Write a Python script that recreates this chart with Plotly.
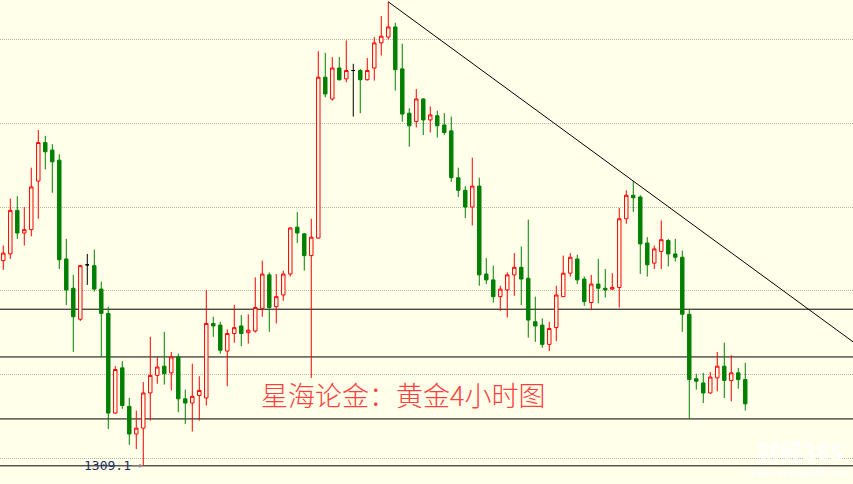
import plotly.graph_objects as go

# ---- data (gold, 4h candles) ----
opens = [1333.6, 1334.4, 1339.6, 1336.9, 1337.3, 1343.1, 1347.7, 1346.8, 1345.6, 1333.8,
         1330.3, 1326.6, 1333.1, 1333.0, 1330.2, 1327.3, 1315.4, 1320.8, 1316.2, 1312.9,
         1313.6, 1317.8, 1319.9, 1321.0, 1320.2, 1322.1, 1317.1, 1316.6, 1317.5, 1317.2,
         1326.1, 1325.9, 1322.8, 1324.9, 1325.8, 1325.0, 1325.2, 1327.9, 1331.9, 1328.1,
         1329.5, 1332.0, 1337.6, 1336.8, 1334.2, 1336.3, 1355.5, 1352.9, 1356.6, 1355.3,
         1356.3, 1356.3, 1355.2, 1356.6, 1359.6, 1360.3, 1361.5, 1356.5, 1351.2, 1350.2,
         1352.9, 1350.4, 1350.9, 1349.8, 1349.1, 1343.5, 1342.0, 1340.0, 1342.5, 1332.0,
         1331.3, 1329.3, 1330.1, 1331.9, 1332.8, 1331.5, 1326.3, 1325.9, 1323.6, 1325.6,
         1329.3, 1332.1, 1333.8, 1331.4, 1328.6, 1330.8, 1330.3, 1330.2, 1330.4, 1338.6,
         1341.4, 1341.2, 1335.7, 1333.3, 1334.7, 1336.0, 1334.4, 1334.0, 1327.2, 1319.5,
         1319.0, 1317.8, 1319.6, 1321.0, 1319.3, 1320.2, 1319.4]
highs = [1335.4, 1341.0, 1341.3, 1340.0, 1344.7, 1349.2, 1348.5, 1347.5, 1346.3, 1336.2,
         1331.9, 1333.1, 1334.4, 1334.9, 1331.1, 1328.1, 1321.0, 1321.6, 1317.2, 1315.7,
         1319.1, 1324.5, 1322.1, 1325.1, 1322.7, 1322.5, 1318.2, 1321.3, 1319.8, 1330.1,
         1326.9, 1326.3, 1325.4, 1328.3, 1327.1, 1327.2, 1331.6, 1333.6, 1332.2, 1332.0,
         1332.4, 1337.6, 1339.4, 1336.9, 1338.6, 1358.6, 1358.4, 1357.9, 1357.9, 1359.9,
         1357.1, 1356.5, 1357.8, 1360.3, 1362.8, 1364.5, 1362.0, 1359.5, 1351.8, 1354.1,
         1353.0, 1352.0, 1351.5, 1351.2, 1350.8, 1344.7, 1342.5, 1345.9, 1343.5, 1333.9,
         1333.0, 1330.6, 1332.2, 1334.5, 1335.3, 1338.5, 1329.3, 1326.7, 1326.3, 1330.6,
         1334.2, 1334.5, 1334.3, 1331.7, 1331.9, 1333.8, 1332.6, 1332.1, 1339.9, 1342.0,
         1343.1, 1341.4, 1336.4, 1335.4, 1338.4, 1336.2, 1336.2, 1334.8, 1327.7, 1320.1,
         1320.2, 1320.3, 1322.7, 1323.8, 1322.3, 1320.8, 1321.4]
lows = [1332.5, 1333.8, 1336.2, 1335.4, 1336.5, 1338.6, 1344.5, 1341.7, 1332.6, 1328.3,
        1322.7, 1326.4, 1330.7, 1329.9, 1322.1, 1313.5, 1315.3, 1315.9, 1311.6, 1311.1,
        1309.1, 1314.5, 1318.9, 1318.8, 1318.1, 1315.5, 1314.1, 1313.2, 1314.5, 1316.3,
        1324.5, 1322.5, 1318.6, 1323.8, 1323.4, 1323.7, 1325.0, 1326.9, 1325.1, 1326.1,
        1328.8, 1331.7, 1335.7, 1332.4, 1319.6, 1336.2, 1353.1, 1352.7, 1355.1, 1354.9,
        1350.8, 1351.2, 1355.1, 1355.1, 1358.1, 1360.0, 1353.9, 1350.2, 1347.2, 1349.5,
        1348.6, 1348.9, 1348.3, 1348.6, 1343.0, 1341.2, 1338.7, 1337.8, 1330.6, 1330.8,
        1328.6, 1327.6, 1326.8, 1329.4, 1328.3, 1324.4, 1323.9, 1323.2, 1322.8, 1324.0,
        1329.3, 1331.7, 1330.8, 1328.2, 1327.7, 1328.5, 1329.2, 1330.1, 1328.0, 1338.0,
        1339.4, 1332.0, 1331.7, 1332.6, 1332.6, 1332.9, 1333.5, 1325.1, 1314.7, 1318.2,
        1316.6, 1317.7, 1318.0, 1317.2, 1316.8, 1318.3, 1315.7]
closes = [1334.5, 1339.6, 1336.9, 1337.3, 1342.4, 1347.7, 1346.6, 1345.4, 1333.7, 1330.1,
          1326.9, 1333.0, 1333.1, 1330.2, 1327.3, 1315.4, 1320.6, 1316.3, 1312.9, 1313.6,
          1317.8, 1319.9, 1320.9, 1320.1, 1322.1, 1317.1, 1316.6, 1317.4, 1318.1, 1326.1,
          1325.8, 1322.9, 1324.9, 1325.6, 1324.9, 1325.3, 1328.0, 1332.0, 1328.0, 1329.3,
          1332.0, 1337.5, 1336.9, 1334.2, 1336.4, 1355.5, 1353.5, 1356.6, 1355.2, 1356.3,
          1356.3, 1355.2, 1356.3, 1359.6, 1360.4, 1361.5, 1356.4, 1351.1, 1349.7, 1352.9,
          1350.4, 1351.0, 1349.7, 1348.9, 1343.5, 1342.0, 1340.0, 1342.5, 1331.9, 1331.3,
          1329.3, 1330.2, 1331.9, 1332.8, 1331.4, 1326.5, 1325.8, 1323.6, 1325.5, 1329.5,
          1332.1, 1334.0, 1331.3, 1328.7, 1330.8, 1330.3, 1330.1, 1330.4, 1338.6, 1341.4,
          1341.1, 1335.6, 1333.1, 1335.0, 1336.1, 1334.4, 1334.0, 1327.2, 1319.4, 1319.2,
          1317.8, 1319.7, 1321.0, 1319.3, 1320.2, 1319.4, 1316.5]

support_levels = [1327.8, 1322.1, 1314.7, 1309.1]
grid_levels = [1310, 1320, 1330, 1340, 1350, 1360]
trend_anchors = [55, 90]          # candles whose highs define the falling trend line
title_text = "星海论金：黄金4小时图"
low_label = "1309.1"
watermark = "财经365"
watermark_url = "www.caijing365.com"

BG = "#FFFFEA"
RED = "#FF0000"
GREEN = "#008000"

n = len(opens)
idx = list(range(n))
x_min, x_max = -0.47, 121.39
y_min, y_max = 1306.93, 1364.72

# split dojis (open == close) into their own black trace
main_o, main_h, main_l, main_c = [], [], [], []
doji_o, doji_h, doji_l, doji_c = [], [], [], []
for o, h, l, c in zip(opens, highs, lows, closes):
    if o == c:
        main_o.append(None); main_h.append(None); main_l.append(None); main_c.append(None)
        doji_o.append(o); doji_h.append(h); doji_l.append(l); doji_c.append(c)
    else:
        main_o.append(o); main_h.append(h); main_l.append(l); main_c.append(c)
        doji_o.append(None); doji_h.append(None); doji_l.append(None); doji_c.append(None)

fig = go.Figure()
fig.add_trace(go.Candlestick(
    x=idx, open=main_o, high=main_h, low=main_l, close=main_c,
    increasing=dict(line=dict(color=RED, width=1), fillcolor=BG),
    decreasing=dict(line=dict(color=GREEN, width=1), fillcolor=GREEN),
    showlegend=False, hoverinfo="skip"))
fig.add_trace(go.Candlestick(
    x=idx, open=doji_o, high=doji_h, low=doji_l, close=doji_c,
    increasing=dict(line=dict(color="#000000", width=1), fillcolor="#000000"),
    decreasing=dict(line=dict(color="#000000", width=1), fillcolor="#000000"),
    showlegend=False, hoverinfo="skip"))

# horizontal support lines
for lv in support_levels:
    fig.add_shape(type="line", xref="paper", x0=0, x1=1, yref="y", y0=lv, y1=lv,
                  line=dict(color="#000000", width=1), layer="below")

# trend line through the two highs, extended to right edge
a, b = trend_anchors
slope = (highs[b] - highs[a]) / (b - a)
fig.add_shape(type="line", x0=a, y0=highs[a], x1=x_max,
              y1=highs[a] + slope * (x_max - a),
              line=dict(color="#000000", width=1))

# low label with arrow
low_i = lows.index(min(lows))
fig.add_annotation(x=low_i, y=lows[low_i], text=low_label, showarrow=True,
                   ax=-36, ay=0, arrowcolor="#8a8a8a", arrowwidth=1, arrowhead=2,
                   arrowsize=0.8, standoff=0,
                   font=dict(family="DejaVu Sans Mono", size=13, color="#1C3060"))

fig.add_annotation(xref="paper", yref="paper", x=0.472, y=0.184, text=title_text,
                   xanchor="center", yanchor="middle", showarrow=False,
                   font=dict(family="Noto Sans CJK SC", size=27, color="#FF4040", weight=300))

fig.add_annotation(xref="paper", yref="paper", x=0.938, y=0.068, text=watermark,
                   xanchor="center", yanchor="middle", showarrow=False, opacity=0.85,
                   font=dict(family="Noto Sans CJK SC", size=23, color="#FFFFFF", weight="bold"))
fig.add_annotation(xref="paper", yref="paper", x=0.938, y=0.022, text=watermark_url,
                   xanchor="center", yanchor="middle", showarrow=False, opacity=0.85,
                   font=dict(family="DejaVu Sans", size=9, color="#FFFFFF", weight="bold"))

fig.update_layout(
    width=853, height=484, margin=dict(l=0, r=0, t=0, b=0),
    paper_bgcolor=BG, plot_bgcolor=BG, showlegend=False,
    xaxis=dict(range=[x_min, x_max], visible=False, rangeslider=dict(visible=False),
               showgrid=False, zeroline=False),
    yaxis=dict(range=[y_min, y_max], showgrid=True, gridcolor="#B8B8AC", griddash="1px,1px",
               gridwidth=1, tickvals=grid_levels, showticklabels=False, zeroline=False,
               showline=False, ticks=""),
)

fig.write_html("out.html", config={"displayModeBar": False},
               post_script="document.body.style.margin='0';document.body.style.padding='0';")
